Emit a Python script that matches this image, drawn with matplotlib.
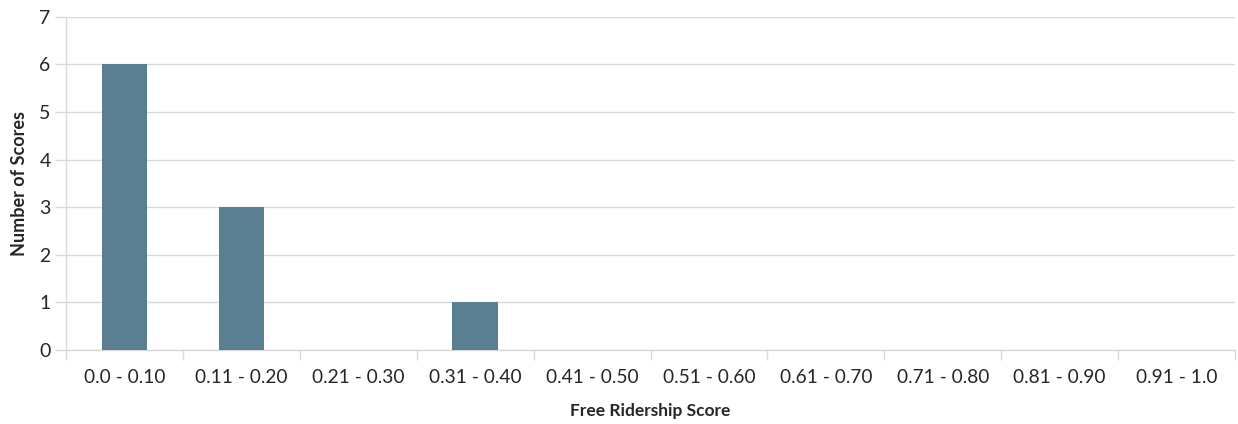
import numpy as np
import matplotlib.pyplot as plt

plt.rcParams['font.family'] = ['Lato', 'DejaVu Sans']

# score bins and how many scores fell into each
score_bins = ['0.0 - 0.10', '0.11 - 0.20', '0.21 - 0.30', '0.31 - 0.40', '0.41 - 0.50',
              '0.51 - 0.60', '0.61 - 0.70', '0.71 - 0.80', '0.81 - 0.90', '0.91 - 1.0']
num_scores = [6, 3, 0, 1, 0, 0, 0, 0, 0, 0]

GRID = '#d9d9d9'
TEXT = '#262626'

fig = plt.figure(figsize=(12.38, 4.24), dpi=100)
ax = fig.add_axes([0.0533, 0.1745, 0.9443, 0.7861])

x = np.arange(len(score_bins))
ax.bar(x, num_scores, width=0.39, color='#5b7f92', zorder=3)

ax.set_xlim(-0.5, len(score_bins) - 0.5)
ax.set_ylim(0, 7)
ax.set_yticks(range(0, 8))
ax.yaxis.grid(True, color=GRID, linewidth=1, zorder=0)

# category labels in the middle, tick marks on the bin boundaries
ax.set_xticks(x)
ax.set_xticklabels(score_bins)
ax.tick_params(axis='x', length=0, pad=14, labelsize=13.8, labelcolor=TEXT)
ax.set_xticks(np.arange(-0.5, len(score_bins)), minor=True)
ax.tick_params(axis='x', which='minor', length=7, color=GRID, width=1)
ax.tick_params(axis='y', length=8, color=GRID, width=1, pad=3, labelsize=14, labelcolor=TEXT)

for side in ['top', 'right']:
    ax.spines[side].set_visible(False)
for side in ['left', 'bottom']:
    ax.spines[side].set_color(GRID)
    ax.spines[side].set_linewidth(1)

ax.set_xlabel('Free Ridership Score', fontsize=12.5, fontweight='bold', color=TEXT, labelpad=12)
ax.set_ylabel('Number of Scores', fontsize=13, fontweight='bold', color=TEXT, labelpad=8)

fig.savefig('out.png', dpi=100)
